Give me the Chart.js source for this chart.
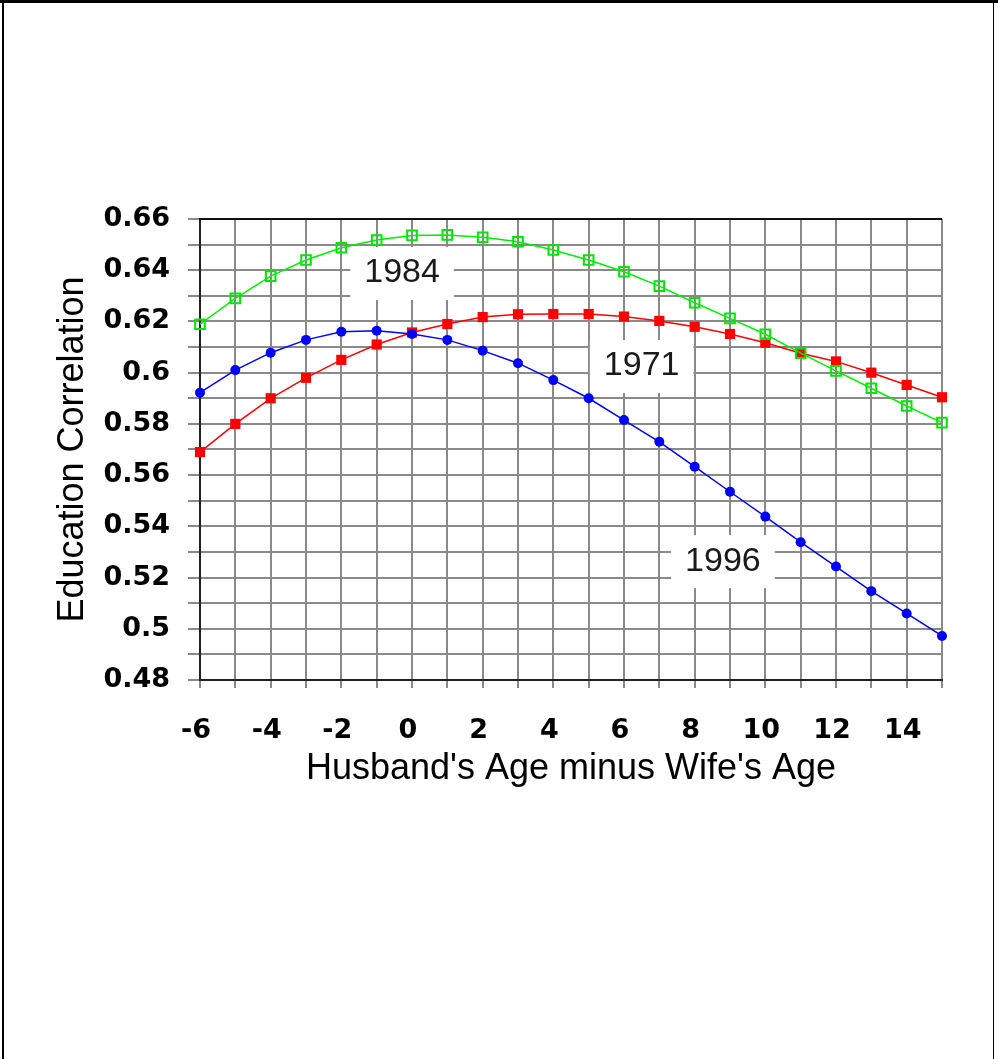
<!DOCTYPE html>
<html>
<head>
<meta charset="utf-8">
<script src="https://cdn.jsdelivr.net/npm/chart.js@4/dist/chart.umd.min.js"></script>
<style>
  html, body { margin: 0; padding: 0; background: #fff; }
  #wrap { width: 998px; height: 1059px; position: relative; }
  canvas { display: block; }
</style>
</head>
<body>
<div id="wrap"><canvas id="c" width="998" height="1059"></canvas></div>
<script>
// ---- data ----
const ages = [-6, -5, -4, -3, -2, -1, 0, 1, 2, 3, 4, 5, 6, 7, 8, 9, 10, 11, 12, 13, 14, 15];
const corr1971 = [0.569, 0.580, 0.590, 0.598, 0.605, 0.611, 0.6157, 0.619, 0.6217, 0.6228, 0.6229, 0.6229, 0.6219, 0.6202, 0.6179, 0.6151, 0.6117, 0.6076, 0.6044, 0.600, 0.5952, 0.5904];
const corr1984 = [0.6189, 0.629, 0.6377, 0.644, 0.6488, 0.6518, 0.6536, 0.6538, 0.6529, 0.6511, 0.6479, 0.644, 0.6394, 0.6338, 0.6273, 0.6212, 0.6150, 0.6076, 0.6007, 0.5939, 0.5870, 0.5805];
const corr1996 = [0.5922, 0.601, 0.6078, 0.6128, 0.616, 0.6164, 0.6151, 0.6128, 0.6086, 0.6037, 0.5971, 0.590, 0.5815, 0.573, 0.5633, 0.5535, 0.5438, 0.5338, 0.5243, 0.5147, 0.506, 0.4972];
const xTickLabels = ['-6', '-4', '-2', '0', '2', '4', '6', '8', '10', '12', '14'];
const yTickLabels = ['0.48', '0.5', '0.52', '0.54', '0.56', '0.58', '0.6', '0.62', '0.64', '0.66'];
const seriesLabels = ['1971', '1984', '1996'];
// label anchor positions in data coordinates (x, y)
const labelAnchorX = [6.5, -0.28, 8.8];
const labelAnchorY = [0.6030, 0.6393, 0.5268];

const toXY = arr => arr.map((v, i) => ({ x: ages[i], y: v }));

const fmt = v => String(Number(v.toFixed(2)));

const decor = {
  id: 'decor',
  beforeDatasetsDraw(chart) {
    const ctx = chart.ctx;
    const xs = chart.scales.x, ys = chart.scales.y;
    ctx.save();
    ctx.font = '34px "Liberation Sans", Arial, sans-serif';
    ctx.textAlign = 'center';
    ctx.textBaseline = 'middle';
    for (let i = 0; i < seriesLabels.length; i++) {
      const px = xs.getPixelForValue(labelAnchorX[i]);
      const py = ys.getPixelForValue(labelAnchorY[i]);
      const w = ctx.measureText(seriesLabels[i]).width;
      ctx.fillStyle = '#ffffff';
      ctx.fillRect(px - w / 2 - 14, py - 25, w + 28, 53);
      ctx.fillStyle = '#1a1a1a';
      ctx.fillText(seriesLabels[i], px, py + 1);
    }
    // top frame line of plot
    const a = chart.chartArea;
    ctx.fillStyle = '#111';
    ctx.fillRect(a.left - 1, a.top - 1, a.right - a.left + 1, 2);
    ctx.restore();
  },
  afterDraw(chart) {
    const ctx = chart.ctx;
    ctx.save();
    ctx.fillStyle = '#000';
    ctx.fillRect(0, 0, 998, 3);
    ctx.fillRect(2, 0, 2, 1059);
    ctx.fillRect(993, 0, 1, 1059);
    ctx.restore();
  }
};

new Chart(document.getElementById('c'), {
  type: 'line',
  data: {
    datasets: [
      {
        label: '1996', data: toXY(corr1996),
        borderColor: '#0000ff', backgroundColor: '#0000ff', borderWidth: 1.5,
        pointStyle: 'circle', pointRadius: 5, pointBorderWidth: 0, pointHoverRadius: 5,
        tension: 0, clip: false
      },
      {
        label: '1984', data: toXY(corr1984),
        borderColor: '#00f000', backgroundColor: 'rgba(0,0,0,0)', borderWidth: 1.5,
        pointStyle: 'rect', pointRadius: 6.8, pointBorderWidth: 2, pointBorderColor: '#00e600',
        pointBackgroundColor: 'rgba(0,0,0,0)', pointHoverRadius: 6.8,
        tension: 0, clip: false
      },
      {
        label: '1971', data: toXY(corr1971),
        borderColor: '#ff0000', backgroundColor: '#ff0000', borderWidth: 1.5,
        pointStyle: 'rect', pointRadius: 7.2, pointBorderWidth: 0, pointHoverRadius: 7.2,
        tension: 0, clip: false
      }
    ]
  },
  options: {
    responsive: false,
    animation: false,
    devicePixelRatio: 1,
    events: [],
    layout: { autoPadding: false, padding: { left: 51, top: 219, right: 56, bottom: 268 } },
    plugins: { legend: { display: false }, tooltip: { enabled: false } },
    scales: {
      x: {
        type: 'linear', min: -6, max: 15,
        afterFit: s => { s.height = 111; },
        ticks: {
          stepSize: 1, autoSkip: false, maxRotation: 0, padding: 27, labelOffset: -4,
          color: '#000',
          font: { family: '"DejaVu Sans", sans-serif', size: 27, weight: 'bold' },
          callback: v => xTickLabels.includes(String(v)) ? String(v) : ''
        },
        grid: { color: '#8a8a8a', lineWidth: 2, tickLength: 8, drawTicks: true },
        border: { color: '#222', width: 2 },
        title: {
          display: true, text: "Husband's Age minus Wife's Age", color: '#000',
          font: { family: '"Liberation Sans", Arial, sans-serif', size: 36 },
          padding: 0
        }
      },
      y: {
        type: 'linear', min: 0.48, max: 0.66,
        afterFit: s => { s.width = 149; },
        ticks: {
          stepSize: 0.01, autoSkip: false, padding: 18,
          color: '#000',
          font: { family: '"DejaVu Sans", sans-serif', size: 27, weight: 'bold' },
          callback: v => yTickLabels.includes(fmt(v)) ? fmt(v) : ''
        },
        grid: { color: '#8a8a8a', lineWidth: 2, tickLength: 12, drawTicks: true },
        border: { color: '#222', width: 2 },
        title: {
          display: true, text: 'Education Correlation', color: '#000',
          font: { family: '"Liberation Sans", Arial, sans-serif', size: 36 },
          padding: 0
        }
      }
    }
  },
  plugins: [decor]
});
</script>
</body>
</html>
